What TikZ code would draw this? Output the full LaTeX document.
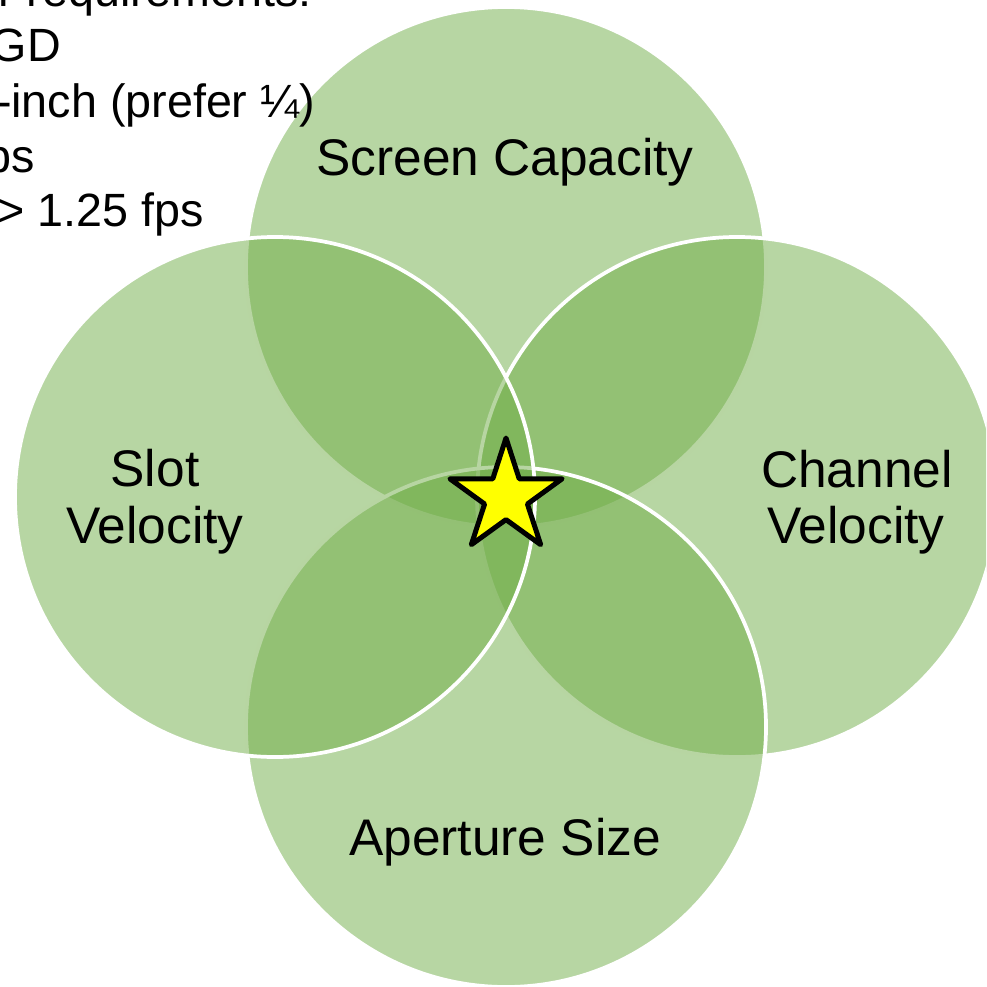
\documentclass[tikz,border=0pt]{standalone}
\usepackage{fontspec}
\setmainfont{Liberation Sans}
\definecolor{vgreen}{RGB}{112,173,71}
\definecolor{vyellow}{RGB}{255,255,0}
\begin{document}
\begin{tikzpicture}[x=0.75pt,y=-0.75pt,
  venn/.style={fill=vgreen, fill opacity=0.5, draw=white, draw opacity=1, line width=2.8pt},
  lbl/.style={inner sep=0pt, outer sep=0pt, font=\fontsize{38.6}{42.75}\selectfont, anchor=base},
  note/.style={inner sep=0pt, outer sep=0pt, font=\fontsize{35}{41}\selectfont, anchor=base east},
  starshape/.style={fill=vyellow, draw=black, line width=3.75pt, line join=round}]
\useasboundingbox (0,0) rectangle (986,987);
\clip (0,0) rectangle (986,987);
% circles (drawing order: top, right, bottom, left)
\path[venn] (506,267) circle[radius=260];
\path[venn] (737,497) circle[radius=260];
\path[venn] (506,727) circle[radius=260];
\path[venn] (275,497) circle[radius=260];
% notes at top left (cut by the picture edge)
\node[note] (n1) at (312,7) {Our requirements:};
\node[note] (n2) at (61,62) {SGD};
\node[note] (n3) at (315,118) {¼-inch (prefer ¼)};
\node[note] (n4) at (35,173) {fps};
\node[note] (n5) at (204,227) {> 1.25 fps};
% labels
\node[lbl] (screen) at (505,176) {Screen Capacity};
\node[lbl] (slot1) at (155,486) {Slot};
\node[lbl] (slot2) at (155,543) {Velocity};
\node[lbl] (chan1) at (857,487) {Channel};
\node[lbl] (chan2) at (856,543) {Velocity};
\node[lbl] (aper) at (505,855) {Aperture Size};
% star
\draw[starshape] (506,438) -- (519.2,478.8) -- (562.1,478.8) -- (527.4,504.0)
  -- (540.7,544.7) -- (506,519.6) -- (471.3,544.7) -- (484.6,504.0)
  -- (449.9,478.8) -- (492.8,478.8) -- cycle;
\end{tikzpicture}
\end{document}
